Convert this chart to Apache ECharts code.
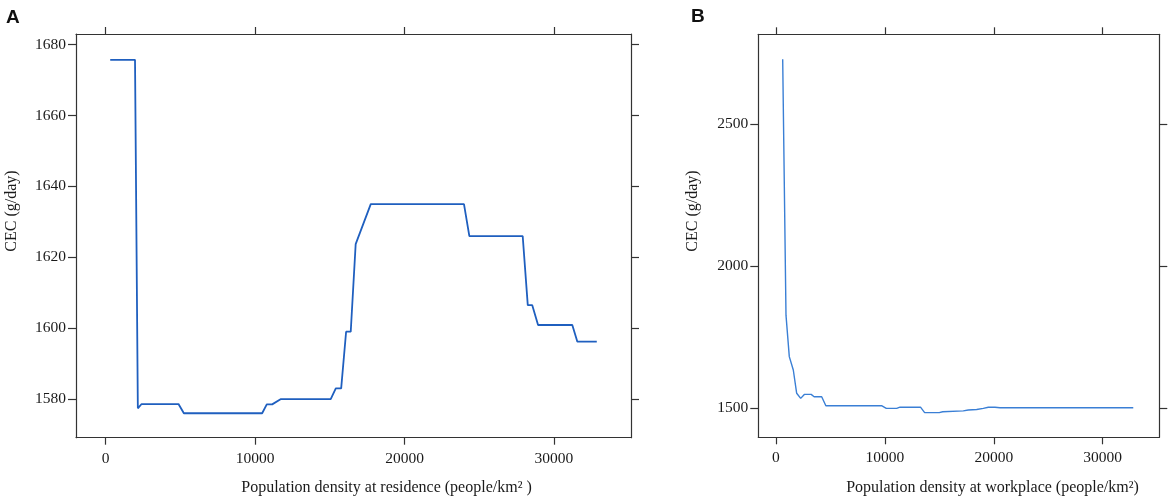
<!DOCTYPE html>
<html>
<head>
<meta charset="utf-8">
<script src="https://cdn.jsdelivr.net/npm/echarts@6/dist/echarts.min.js"></script>
<style>
html,body{margin:0;padding:0;background:#fff;}
#chart{width:1170px;height:498px;}
</style>
</head>
<body>
<div id="chart"></div>
<script>
// Panel A: population density at residence
var resX = [300, 1960, 2150, 2400, 4870, 5230, 10470, 10780, 11140, 11730, 15060, 15400, 15760, 16090, 16400, 16730, 17740, 23980, 24340, 27910, 28250, 28550, 28940, 31230, 31570, 32870];
var resCEC = [1675.7, 1675.7, 1577.4, 1578.6, 1578.6, 1576.0, 1576.0, 1578.5, 1578.5, 1580.0, 1580.0, 1583.0, 1583.0, 1599.0, 1599.0, 1623.7, 1635.0, 1635.0, 1626.0, 1626.0, 1606.5, 1606.5, 1600.9, 1600.9, 1596.2, 1596.2];
// Panel B: population density at workplace
var workX = [615, 918, 1221, 1589, 1900, 2268, 2600, 3230, 3500, 4196, 4580, 9730, 10130, 11084, 11387, 13270, 13650, 14995, 15307, 17199, 17658, 18430, 19036, 19495, 20110, 20569, 32810];
var workCEC = [2729, 1828, 1682, 1635, 1553, 1535, 1549, 1549, 1541, 1541, 1509, 1509, 1500, 1500, 1504, 1504, 1485, 1485, 1488, 1491, 1494, 1496, 1500, 1504, 1504, 1502, 1502];
// Tick labels
var xTicks = [0, 10000, 20000, 30000];
var yTicksA = [1580, 1600, 1620, 1640, 1660, 1680];
var yTicksB = [1500, 2000, 2500];
var panelLabels = ['A', 'B'];
var xNames = ['Population density at residence (people/km\u00B2 )', 'Population density at workplace (people/km\u00B2)'];
var yName = 'CEC (g/day)';

function pairs(xs, ys) { return xs.map(function (x, i) { return [x, ys[i]]; }); }
function plain(v) { return String(v); }

var serif = '"Liberation Serif", "Times New Roman", serif';
var lineCol = '#333';
var txtCol = '#1a1a1a';

function xAx(grid, min, max, pos, showLabel) {
  return {
    type: 'value', gridIndex: grid, position: pos, min: min, max: max,
    splitLine: { show: false },
    axisLine: { show: true, onZero: false, lineStyle: { color: lineCol, width: 1.2 } },
    axisTick: { show: true, inside: false, length: 7, customValues: xTicks, lineStyle: { color: lineCol, width: 1.2 } },
    axisLabel: { show: showLabel, customValues: xTicks, formatter: plain, margin: 13, color: txtCol, fontFamily: serif, fontSize: 15.5 }
  };
}
function yAx(grid, min, max, pos, showLabel, ticks) {
  return {
    type: 'value', gridIndex: grid, position: pos, min: min, max: max,
    splitLine: { show: false },
    axisLine: { show: true, onZero: false, lineStyle: { color: lineCol, width: 1.2 } },
    axisTick: { show: true, inside: false, length: 8, customValues: ticks, lineStyle: { color: lineCol, width: 1.2 } },
    axisLabel: { show: showLabel, customValues: ticks, formatter: plain, margin: 10, color: txtCol, fontFamily: serif, fontSize: 15.5 }
  };
}

var chart = echarts.init(document.getElementById('chart'), null, { renderer: 'canvas' });
chart.setOption({
  backgroundColor: '#fff',
  animation: false,
  grid: [
    { left: 76, top: 34, width: 555, height: 403.7, containLabel: false, outerBoundsMode: 'none' },
    { left: 758.3, top: 34.3, width: 401, height: 403, containLabel: false, outerBoundsMode: 'none' }
  ],
  xAxis: [
    xAx(0, -1990, 35160, 'bottom', true),
    xAx(0, -1990, 35160, 'top', false),
    xAx(1, -1625, 35200, 'bottom', true),
    xAx(1, -1625, 35200, 'top', false)
  ],
  yAxis: [
    yAx(0, 1569.1, 1683.0, 'left', true, yTicksA),
    yAx(0, 1569.1, 1683.0, 'right', false, yTicksA),
    yAx(1, 1398, 2817, 'left', true, yTicksB),
    yAx(1, 1398, 2817, 'right', false, yTicksB)
  ],
  series: [
    { type: 'line', xAxisIndex: 0, yAxisIndex: 0, data: pairs(resX, resCEC), showSymbol: false, symbol: 'none',
      lineStyle: { color: '#1f5fbf', width: 1.8 }, silent: true },
    { type: 'line', xAxisIndex: 2, yAxisIndex: 2, data: pairs(workX, workCEC), showSymbol: false, symbol: 'none',
      lineStyle: { color: '#3a7fd5', width: 1.4 }, silent: true }
  ],
  graphic: [
    { type: 'text', left: 6, top: 8, style: { text: panelLabels[0], font: 'bold 19px "Liberation Sans", Arial, sans-serif', fill: '#111' } },
    { type: 'text', left: 691, top: 7, style: { text: panelLabels[1], font: 'bold 19px "Liberation Sans", Arial, sans-serif', fill: '#111' } },
    { type: 'text', x: 386.5, y: 488, style: { text: xNames[0], font: '16px ' + serif, fill: txtCol, align: 'center', verticalAlign: 'middle' } },
    { type: 'text', x: 992.5, y: 488, style: { text: xNames[1], font: '16px ' + serif, fill: txtCol, align: 'center', verticalAlign: 'middle' } },
    { type: 'text', x: 12, y: 211, rotation: Math.PI / 2, style: { text: yName, font: '16px ' + serif, fill: txtCol, align: 'center', verticalAlign: 'middle' } },
    { type: 'text', x: 693, y: 211, rotation: Math.PI / 2, style: { text: yName, font: '16px ' + serif, fill: txtCol, align: 'center', verticalAlign: 'middle' } }
  ]
});
</script>
</body>
</html>
